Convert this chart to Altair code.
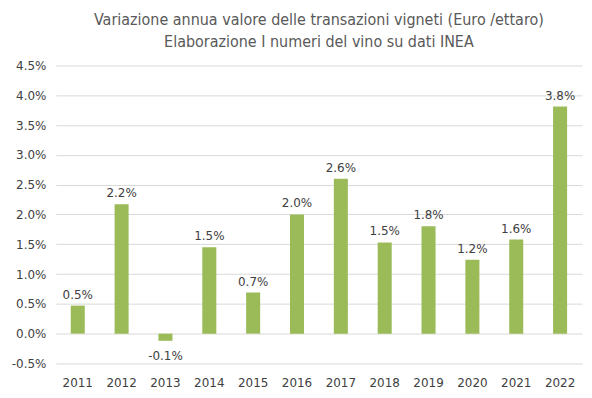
import altair as alt
import pandas as pd

years = ["2011", "2012", "2013", "2014", "2015", "2016", "2017", "2018", "2019", "2020", "2021", "2022"]
values = [0.0047, 0.0217, -0.0012, 0.0145, 0.0069, 0.0200, 0.0260, 0.0153, 0.0180, 0.0124, 0.0158, 0.0381]
y_ticks = [-0.005, 0, 0.005, 0.01, 0.015, 0.02, 0.025, 0.03, 0.035, 0.04, 0.045]

df = pd.DataFrame({"year": years, "value": values})

FONT = "DejaVu Sans"
TXT = "#404040"

base = alt.Chart(df).transform_calculate(
    lbl="replace(format(datum.value, '.1%'), '\u2212', '-')"
).encode(
    x=alt.X("year:N", title=None, sort=years,
            scale=alt.Scale(paddingInner=0.68, paddingOuter=0.34),
            axis=alt.Axis(labelAngle=0, domain=False, ticks=False, labelFont=FONT,
                          labelFontSize=12, labelColor=TXT, labelPadding=14,
                          labelOverlap=False)),
    y=alt.Y("value:Q", title=None,
            scale=alt.Scale(domain=[-0.005, 0.045], nice=False),
            axis=alt.Axis(values=y_ticks,
                          labelExpr="replace(format(datum.value, '.1%'), '\u2212', '-')",
                          domain=False, ticks=False, gridColor="#d9d9d9", labelFont=FONT,
                          labelFontSize=12, labelColor=TXT, labelPadding=10,
                          labelOverlap=False)),
)

bars = base.mark_bar(color="#9BBB59")

labels_pos = base.transform_filter("datum.value >= 0").mark_text(
    dy=-11, font=FONT, fontSize=12, color=TXT
).encode(text="lbl:N")

labels_neg = base.transform_filter("datum.value < 0").mark_text(
    dy=15, font=FONT, fontSize=12, color=TXT
).encode(text="lbl:N")

chart = alt.layer(bars, labels_pos, labels_neg).properties(
    width=528, height=299,
    title=alt.TitleParams(
        ["Variazione annua valore delle transazioni vigneti (Euro /ettaro)",
         "Elaborazione I numeri del vino su dati INEA"],
        font="Liberation Sans Narrow, DejaVu Sans Condensed, sans-serif",
        fontSize=16, fontWeight="normal", color="#595959", anchor="middle",
        lineHeight=22, offset=10,
    ),
    padding={"left": 3, "top": 3, "right": 2, "bottom": 5},
).configure_view(stroke=None)

chart.save("out.html", embed_options={"renderer": "svg", "actions": False})
